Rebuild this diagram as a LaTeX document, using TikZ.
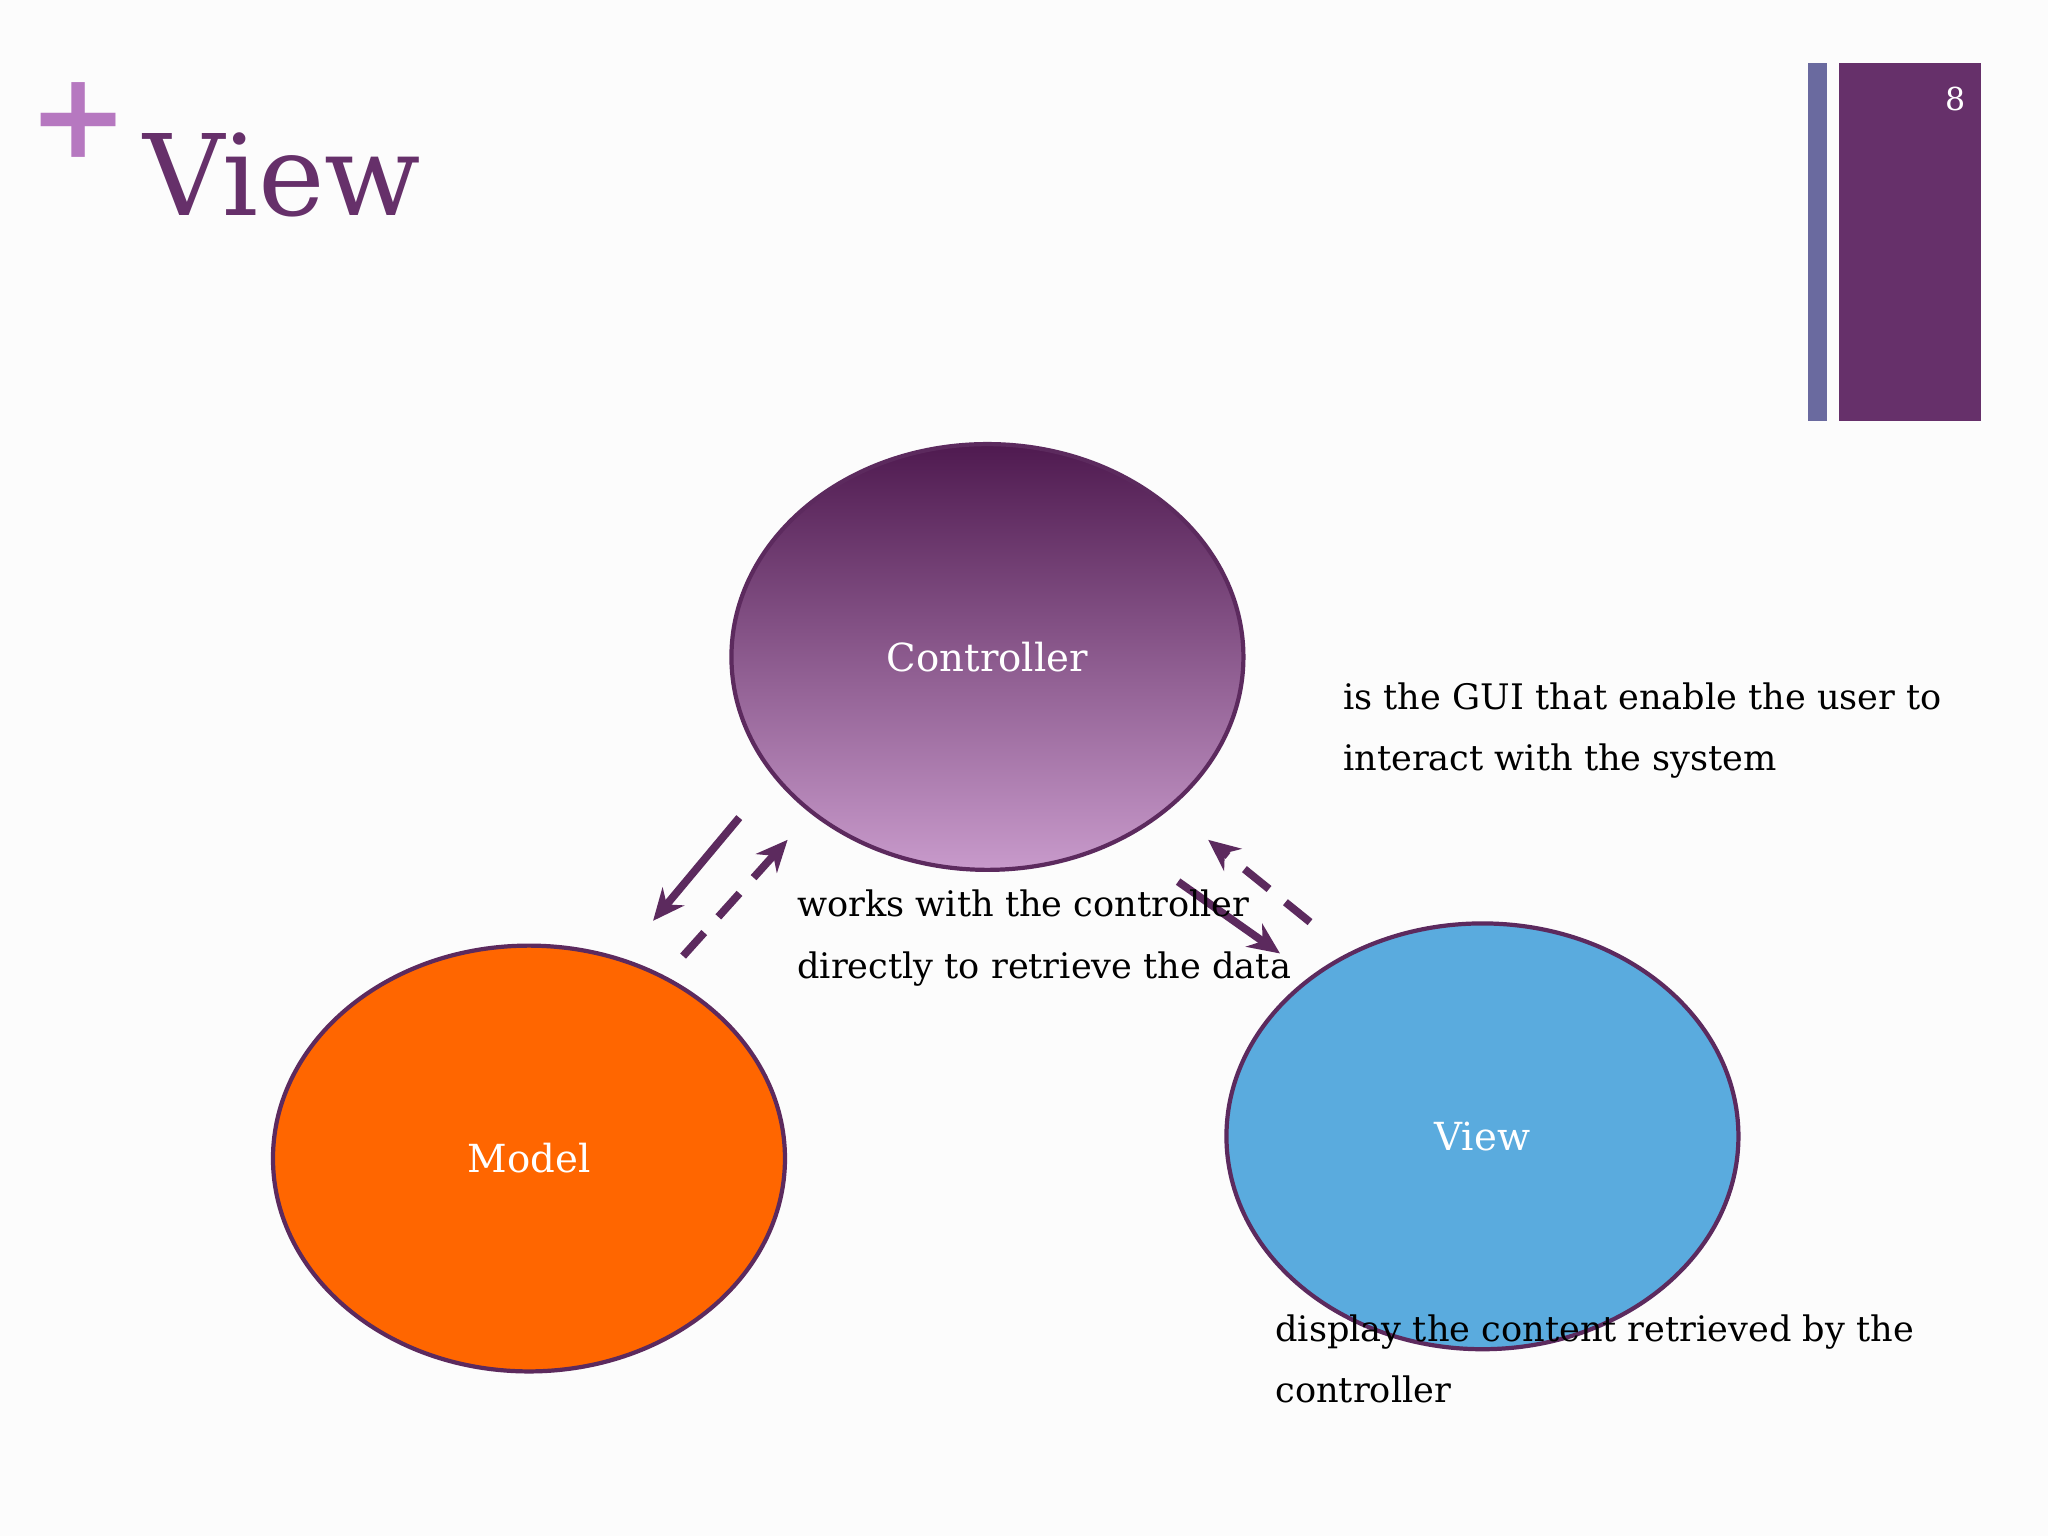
\documentclass[tikz,border=0pt]{standalone}
\usepackage{fontspec}
\setmainfont{DejaVu Serif}
\usetikzlibrary{arrows.meta,shapes.geometric}
\definecolor{plum}{HTML}{66306A}
\definecolor{plumline}{HTML}{5C2A5E}
\definecolor{plus}{HTML}{B678C0}
\definecolor{barblue}{HTML}{6A6A9F}
\definecolor{ctop}{HTML}{4F1A50}
\definecolor{cbot}{HTML}{C89ACB}
\definecolor{morange}{HTML}{FF6600}
\definecolor{vblue}{HTML}{5AABDE}
\tikzset{
  blob/.style={ellipse, draw=plumline, line width=1.2pt, minimum width=392*0.013061cm, minimum height=326*0.013061cm, text=white, font=\fontsize{11}{13}\selectfont},
  note/.style={anchor=base west, align=left, font=\fontsize{10}{17.5}\selectfont, text=black},
  flow/.style={draw=plumline, line width=2.2pt, -{Stealth[length=9pt,width=8pt]}},
  back/.style={flow, dash pattern=on 9pt off 6pt},
}
\begin{document}
\begin{tikzpicture}[x=0.013061cm, y=-0.013061cm]
\useasboundingbox (0,0) rectangle (1568,1176);
\fill[white!98!gray] (0,0) rectangle (1568,1176);
% header
\node[text=plus, font=\fontsize{34}{34}\selectfont\bfseries] (plus) at (60,92) {+};
\node[text=plum, anchor=base west, font=\fontsize{32}{32}\selectfont] (title) at (100,165) {View};
\fill[barblue] (1384,48) rectangle (1399,322);
\fill[plum] (1408,48) rectangle (1517,322);
\node[text=white, font=\fontsize{9}{9}\selectfont] (num) at (1497,76) {8};
% ellipses
\node[blob, top color=ctop, bottom color=cbot] (ctrl) at (756,503) {Controller};
\node[blob, fill=morange] (model) at (405,887) {Model};
\node[blob, fill=vblue] (view) at (1135,870) {View};
% arrows
\coordinate (a1) at (566,626); \coordinate (a2) at (500,705);
\coordinate (b1) at (523,732); \coordinate (b2) at (603,643);
\coordinate (c1) at (902,675); \coordinate (c2) at (980,730);
\coordinate (d1) at (1003,706); \coordinate (d2) at (925,643);
\draw[flow] (a1) -- (a2);
\draw[back] (b1) -- (b2);
\draw[flow] (c1) -- (c2);
\draw[back] (d1) -- (d2);
% notes
\node[note] (n1) at (1019,590) {is the GUI that enable the user to\\interact with the system};
\node[note] (n2) at (601,749) {works with the controller\\directly to retrieve the data};
\node[note] (n3) at (967,1074) {display the content retrieved by the\\controller};
\end{tikzpicture}
\end{document}
